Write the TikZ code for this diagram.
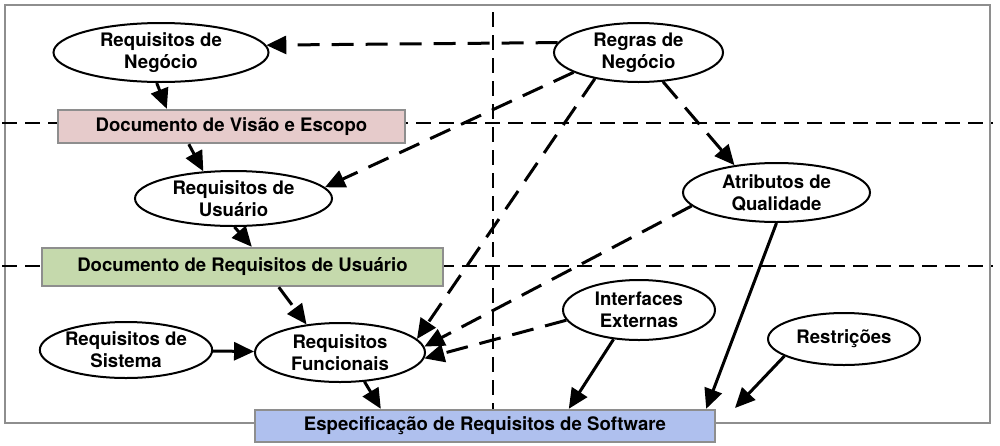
\documentclass[tikz,border=0pt]{standalone}
\usepackage{fontspec}
\setmainfont{TeX Gyre Heros}
\usetikzlibrary{shapes.geometric,arrows.meta}

\definecolor{boxgray}{HTML}{8E8E8E}
\definecolor{visaopink}{HTML}{E6CBCB}
\definecolor{usugreen}{HTML}{C5D9AC}
\definecolor{specblue}{HTML}{AFC0EE}

\begin{document}
\begin{tikzpicture}[x=0.5pt,y=-0.5pt,
  req/.style={ellipse,draw=black,line width=1pt,fill=white,inner sep=0pt,align=center,
    font=\fontsize{9.3}{11}\selectfont\bfseries},
  doc/.style={rectangle,draw=boxgray,line width=1.2pt,inner sep=0pt,align=center,
    font=\fontsize{9.3}{11}\selectfont\bfseries},
  sep/.style={line width=0.9pt,dash pattern=on 7.5pt off 4pt},
  arr/.style={line width=1.5pt,-{Triangle[length=10pt,width=9pt]}},
  dasharr/.style={arr,dash pattern=on 11pt off 6pt}]
\useasboundingbox (0,0) rectangle (1000,445);
\draw[boxgray,line width=1pt] (5,5) rectangle (990,423);
% separators
\draw[sep] (2,123) -- (993,123);
\draw[sep] (2,266) -- (993,266);
\draw[sep] (493,12) -- (493,410);
% nodes
\node[req,minimum width=107.5pt,minimum height=29.5pt] (reqneg) at (161,52.5) {Requisitos de\\Negócio};
\node[req,minimum width=84.5pt,minimum height=29.5pt] (regneg) at (638.5,52.5) {Regras de\\Negócio};
\node[doc,fill=visaopink,minimum width=173.5pt,minimum height=16.5pt] (docvisao) at (231.5,126.5) {Documento de Visão e Escopo};
\node[req,minimum width=98.5pt,minimum height=27.5pt] (requsu) at (233.5,198.5) {Requisitos de\\Usuário};
\node[req,minimum width=93.5pt,minimum height=29.5pt] (atrib) at (776.5,192.5) {Atributos de\\Qualidade};
\node[doc,fill=usugreen,minimum width=200.5pt,minimum height=19pt] (docusu) at (242.5,267) {Documento de Requisitos de Usuário};
\node[req,minimum width=84pt,minimum height=28pt] (reqsist) at (126,350) {Requisitos de\\Sistema};
\node[req,minimum width=85pt,minimum height=29.5pt] (reqfunc) at (340,352.5) {Requisitos\\Funcionais};
\node[req,minimum width=76pt,minimum height=30pt] (interf) at (639,310) {Interfaces\\Externas};
\node[req,minimum width=76pt,minimum height=26pt] (restr) at (844,339) {Restrições};
\node[doc,fill=specblue,minimum width=230pt,minimum height=16pt] (spec) at (485,426) {Especificação de Requisitos de Software};
\coordinate (restrend) at (735,408);
% connectors
\draw[dasharr] (regneg.173) -- (reqneg.4);
\draw[arr] (reqneg.262) -- ([xshift=55pt]docvisao.north west);
\draw[arr] ([xshift=66pt]docvisao.south west) -- (requsu.138);
\draw[dasharr] (regneg.197) -- (requsu.7);
\draw[dasharr] (regneg.211) -- (reqfunc.10);
\draw[dasharr] (regneg.310) -- (atrib.147);
\draw[arr] (requsu.272) -- ([xshift=105.5pt]docusu.north west);
\draw[dasharr] ([xshift=119pt]docusu.south west) -- (reqfunc.140);
\draw[arr] (reqsist) -- (reqfunc);
\draw[arr] (reqfunc.310) -- ([xshift=63.5pt]spec.north west);
\draw[dasharr] (atrib.189) -- (reqfunc.4);
\draw[dasharr] (interf.188) -- (reqfunc.356);
\draw[arr] (interf.229) -- ([xshift=157.5pt]spec.north west);
\draw[arr] (atrib.south) -- ([xshift=-5pt]spec.north east);
\draw[arr] (restr.196) -- (restrend);
\end{tikzpicture}
\end{document}
